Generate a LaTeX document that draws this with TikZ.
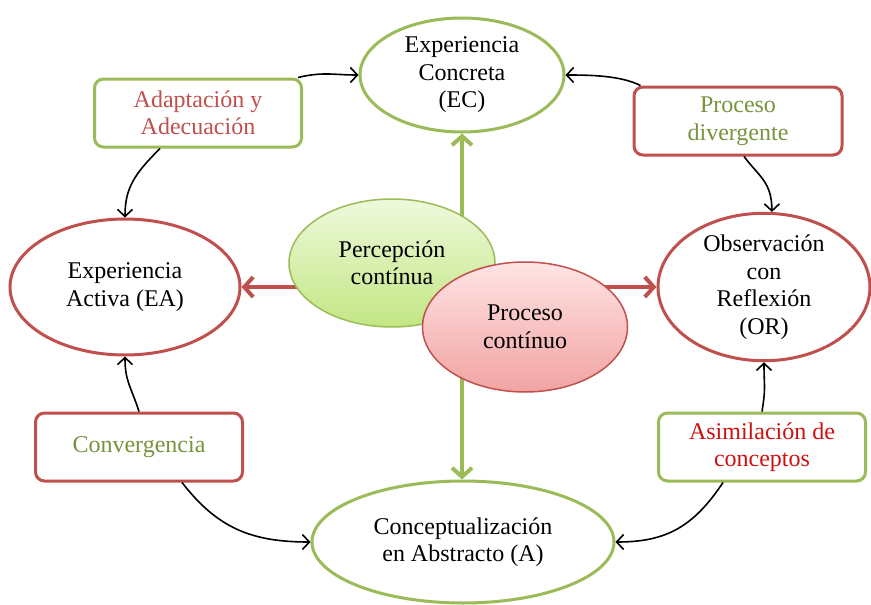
\documentclass[tikz,border=0pt]{standalone}
\usepackage{fontspec}
\setmainfont{Liberation Serif}
\usetikzlibrary{shapes.geometric,arrows.meta,calc}
\definecolor{gborder}{HTML}{9BBB59}
\definecolor{rborder}{HTML}{C0504D}
\definecolor{gtext}{HTML}{77933C}
\definecolor{rtext}{HTML}{C0504D}
\definecolor{rtextb}{HTML}{CC1111}
\definecolor{gtop}{HTML}{EEF9DC}
\definecolor{gbot}{HTML}{C3E683}
\definecolor{rtop}{HTML}{FFE4E4}
\definecolor{rbot}{HTML}{F2A3A3}
\begin{document}
\begin{tikzpicture}[x=1pt,y=-1pt,
  every node/.style={font=\fontsize{24}{27.5}\selectfont, align=center, inner sep=0pt},
  outer/.style={ellipse, line width=3pt, fill=white},
  centre/.style={ellipse, line width=1.5pt},
  lbox/.style={rectangle, rounded corners=9pt, line width=3pt, fill=white},
  thin arrow/.style={line width=1.6pt, black, -{Straight Barb[length=7pt,width=15pt]}},
  thick arrow/.style={line width=4pt, {Straight Barb[length=9pt,width=20pt]}-{Straight Barb[length=9pt,width=20pt]}}
]
\useasboundingbox (0,0) rectangle (871,605);

% outer ellipses
\node[outer, draw=gborder, minimum width=204pt, minimum height=114pt] (ec) at (462,75) {Experiencia\\Concreta\\(EC)};
\node[outer, draw=rborder, minimum width=230pt, minimum height=136pt] (ea) at (125,287) {Experiencia\\Activa (EA)};
\node[outer, draw=rborder, minimum width=212pt, minimum height=132pt] (or) at (764,287) {Observación\\con\\Reflexión\\(OR)};
\node[outer, draw=gborder, minimum width=302pt, minimum height=122pt] (a) at (463,542) {Conceptualización\\en Abstracto (A)};

% thick arrows
\draw[thick arrow, gborder] (ec.south) -- (ec.south |- a.north);
\draw[thick arrow, rborder] (ea.east) -- (or.west);

% centre ellipses
\node[centre, draw=gborder, top color=gtop, bottom color=gbot, minimum width=206pt, minimum height=128pt] (perc) at (392,263) {Percepción\\contínua};
\node[centre, draw=rborder, top color=rtop, bottom color=rbot, minimum width=205pt, minimum height=130pt] (proc) at (525,327) {Proceso\\contínuo};

% boxes
\node[lbox, draw=gborder, text=rtext, minimum width=207pt, minimum height=68pt] (adapt) at (198,113) {Adaptación y\\Adecuación};
\node[lbox, draw=rborder, text=gtext, minimum width=208pt, minimum height=68pt] (div) at (738,121) {Proceso\\divergente};
\node[lbox, draw=rborder, text=gtext, minimum width=207pt, minimum height=68pt] (conv) at (139,447) {Convergencia};
\node[lbox, draw=gborder, text=rtextb, minimum width=207pt, minimum height=68pt] (asim) at (762,447) {Asimilación de\\conceptos};

% thin arrows
\draw[thin arrow] ($(adapt.north east)+(-5,0)$) .. controls +(25,-6) and +(-25,0) .. (ec.west);
\draw[thin arrow] ($(adapt.south)+(-38,0)$) .. controls +(-25,25) and +(0,-30) .. (ea.north);
\draw[thin arrow] ($(div.north west)+(8,0)$) .. controls +(-20,-10) and +(25,0) .. (ec.east);
\draw[thin arrow] ($(div.south)+(6,0)$) .. controls +(15,20) and +(0,-30) .. (or.84);
\draw[thin arrow] (conv.north) .. controls +(-8,-25) and +(0,25) .. (ea.south);
\draw[thin arrow] ($(conv.south)+(43,0)$) .. controls +(35,45) and +(-60,0) .. (a.west);
\draw[thin arrow] (asim.north) .. controls +(4,-25) and +(0,25) .. (or.south);
\draw[thin arrow] ($(asim.south)+(-39,0)$) .. controls +(-30,45) and +(50,0) .. (a.east);
\end{tikzpicture}
\end{document}
